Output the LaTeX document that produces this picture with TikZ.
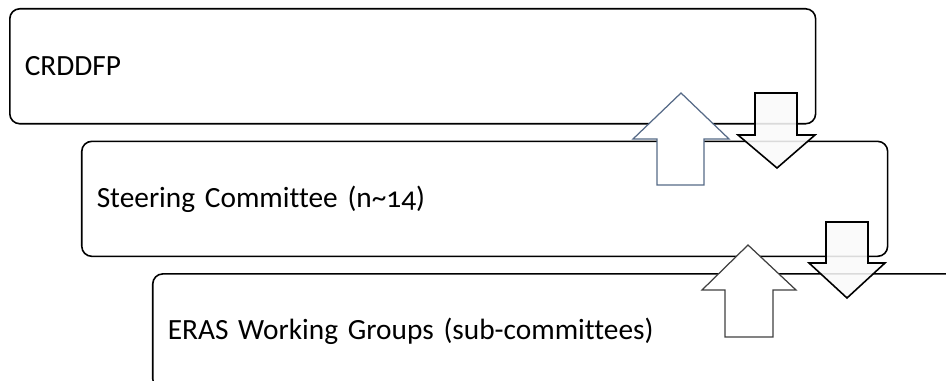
\documentclass[tikz,border=0pt]{standalone}
\usepackage{fontspec}
\setmainfont[Numbers=OldStyle,Ligatures=NoCommon]{Carlito}
\usetikzlibrary{positioning}

\definecolor{slateblue}{RGB}{86,106,135}
\definecolor{darkgrey}{RGB}{64,64,64}

\tikzset{
  level/.style={draw,line width=0.9pt,rounded corners=0.2cm,
    minimum width=16.12cm,minimum height=2.3cm,text width=15.52cm,
    inner xsep=0.3cm,align=left,font=\fontsize{16.7}{19}\selectfont},
  uparr/.style={draw,fill=white,line width=0.7pt,line join=miter},
  downarr/.style={draw=black,fill=gray!5,fill opacity=0.88,line width=0.9pt,line join=miter}
}

\begin{document}
\begin{tikzpicture}[x=0.02cm,y=-0.02cm]
\clip (0,0) rectangle (946,381);

\node[level,anchor=north west](crddfp) at (9,8){CRDDFP};
\node[level,below right=0.32cm and 1.44cm of crddfp.south west](steering){Steering Committee (n\textasciitilde14)};
\node[level,below right=0.32cm and 1.42cm of steering.south west](eras){ERAS Working Groups (sub-committees)};

% feedback up, decisions down
\draw[uparr,draw=slateblue] (681,93) -- (729,139) -- (704,139) -- (704,185)
  -- (657,185) -- (657,139) -- (633,139) -- cycle;
\draw[downarr] (755,93) -- (797,93) -- (797,135) -- (815,135)
  -- (777,168) -- (738,135) -- (755,135) -- cycle;
\draw[uparr,draw=darkgrey] (748,245) -- (796,290) -- (773,290) -- (773,337)
  -- (725,337) -- (725,290) -- (702,290) -- cycle;
\draw[downarr] (826,222) -- (868,222) -- (868,263) -- (885,263)
  -- (847,298) -- (809,263) -- (826,263) -- cycle;

\end{tikzpicture}
\end{document}
